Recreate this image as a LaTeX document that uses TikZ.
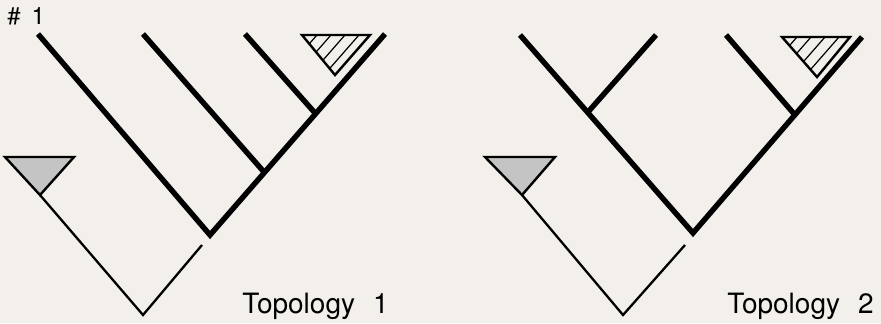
\documentclass[tikz,border=0pt]{standalone}
\usepackage{fontspec}
\setmainfont{TeX Gyre Heros}
\usetikzlibrary{calc}
\definecolor{paper}{RGB}{243,239,234}
\definecolor{stipple}{RGB}{196,196,196}

\begin{document}
\begin{tikzpicture}[x=0.5pt, y=-0.5pt,
  branch/.style={line width=2.7pt},
  stem/.style={line width=1.15pt},
  clade/.style={line width=1.2pt, line join=miter},
  hatchline/.style={line width=0.6pt}]
  \fill[paper] (0,0) rectangle (881,323);
  \useasboundingbox (0,0) rectangle (881,323);

  \node[font=\fontsize{12}{14}\selectfont, anchor=base west, inner sep=0pt] (tag) at (7,24) {\#\hspace{0.45em}1};

  % topology 1
  \coordinate (a1) at (38,34);
  \coordinate (r1) at (210,235);
  \coordinate (b1) at (385,34);
  \coordinate (c1) at (143,34);
  \coordinate (d1) at (245,34);
  \coordinate (j1) at (264,172);
  \coordinate (k1) at (315,113);
  \draw[branch] (a1) -- (r1) -- (b1);
  \draw[branch] (c1) -- (j1);
  \draw[branch] (d1) -- (k1);

  \coordinate (h1a) at (302,35);
  \coordinate (h1b) at (370,35);
  \coordinate (h1c) at (335,75);
  \begin{scope}
    \clip (h1a) -- (h1b) -- (h1c) -- cycle;
    \foreach \o in {-53,-39,-25,-11}
      \draw[hatchline] ($(h1b)+(\o,0)$) -- ++(-70,80);
  \end{scope}
  \draw[clade] (h1a) -- (h1b) -- (h1c) -- cycle;

  \coordinate (s1a) at (5,157);
  \coordinate (s1b) at (74,157);
  \coordinate (s1c) at (40,195);
  \coordinate (o1) at (143,315);
  \coordinate (e1) at (202,245);
  \draw[clade, fill=stipple] (s1a) -- (s1b) -- (s1c) -- cycle;
  \draw[stem] (s1c) -- (o1) -- (e1);

  \node[font=\fontsize{14}{16}\selectfont, anchor=base west, inner sep=0pt] (lab1) at (242,313) {Topology\hspace{0.65em}1};

  % topology 2
  \coordinate (a2) at (520,35);
  \coordinate (r2) at (693,233);
  \coordinate (b2) at (862,37);
  \coordinate (c2) at (656,35);
  \coordinate (d2) at (726,35);
  \coordinate (j2) at (588,112);
  \coordinate (k2) at (795,115);
  \draw[branch] (a2) -- (r2) -- (b2);
  \draw[branch] (c2) -- (j2);
  \draw[branch] (d2) -- (k2);

  \coordinate (h2a) at (782,37);
  \coordinate (h2b) at (850,37);
  \coordinate (h2c) at (817,77);
  \begin{scope}
    \clip (h2a) -- (h2b) -- (h2c) -- cycle;
    \foreach \o in {-53,-39,-25,-11}
      \draw[hatchline] ($(h2b)+(\o,0)$) -- ++(-70,80);
  \end{scope}
  \draw[clade] (h2a) -- (h2b) -- (h2c) -- cycle;

  \coordinate (s2a) at (485,157);
  \coordinate (s2b) at (555,157);
  \coordinate (s2c) at (522,195);
  \coordinate (o2) at (623,315);
  \coordinate (e2) at (685,245);
  \draw[clade, fill=stipple] (s2a) -- (s2b) -- (s2c) -- cycle;
  \draw[stem] (s2c) -- (o2) -- (e2);

  \node[font=\fontsize{14}{16}\selectfont, anchor=base west, inner sep=0pt] (lab2) at (727,313) {Topology\hspace{0.65em}2};
\end{tikzpicture}
\end{document}
